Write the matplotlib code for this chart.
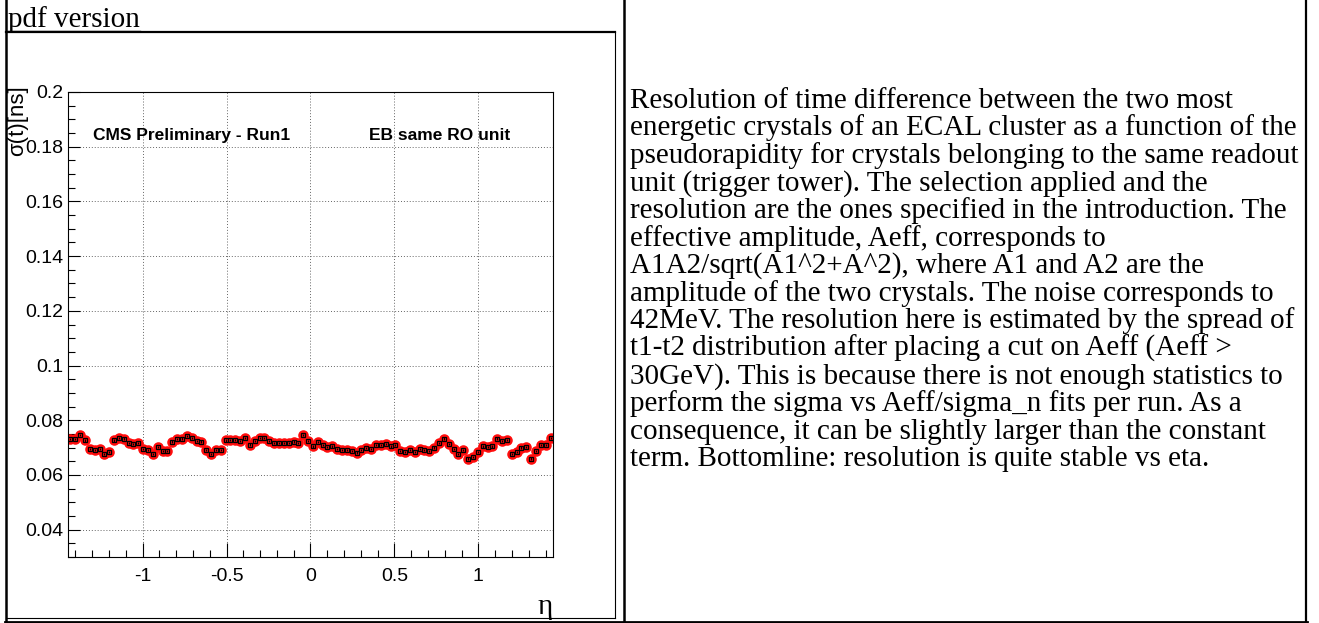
import numpy as np
import matplotlib.pyplot as plt
from matplotlib.lines import Line2D
from matplotlib.ticker import MultipleLocator, FuncFormatter

W, H = 1319, 623

# time resolution per eta bin, EB crystals in the same readout unit
eta_edges = np.linspace(-1.4442, 1.4442, 101)
eta = 0.5 * (eta_edges[:-1] + eta_edges[1:])
sigma_t = [
    0.0732, 0.0732, 0.0745, 0.0726, 0.0694, 0.0691, 0.0694, 0.0677, 0.0684, 0.0726,
    0.0734, 0.0733, 0.0716, 0.0713, 0.0718, 0.0694, 0.0691, 0.0676, 0.0701, 0.0688,
    0.0689, 0.0722, 0.0730, 0.0733, 0.0743, 0.0735, 0.0723, 0.0722, 0.0691, 0.0677,
    0.0691, 0.0690, 0.0726, 0.0728, 0.0727, 0.0724, 0.0734, 0.0711, 0.0723, 0.0734,
    0.0734, 0.0724, 0.0718, 0.0718, 0.0718, 0.0718, 0.0722, 0.0716, 0.0746, 0.0724,
    0.0704, 0.0721, 0.0708, 0.0702, 0.0704, 0.0694, 0.0690, 0.0690, 0.0688, 0.0682,
    0.0690, 0.0699, 0.0696, 0.0708, 0.0708, 0.0712, 0.0704, 0.0708, 0.0688, 0.0684,
    0.0690, 0.0684, 0.0696, 0.0690, 0.0688, 0.0700, 0.0718, 0.0733, 0.0712, 0.0694,
    0.0676, 0.0690, 0.0660, 0.0666, 0.0684, 0.0704, 0.0702, 0.0704, 0.0733, 0.0724,
    0.0727, 0.0676, 0.0684, 0.0700, 0.0702, 0.0660, 0.0688, 0.0708, 0.0708, 0.0734,
]
sigma_err = 0.0004

x_ticks = [-1, -0.5, 0, 0.5, 1]
y_ticks = [0.04, 0.06, 0.08, 0.1, 0.12, 0.14, 0.16, 0.18, 0.2]

caption = [
    "Resolution of time difference between the two most",
    "energetic crystals of an ECAL cluster as a function of the",
    "pseudorapidity for crystals belonging to the same readout",
    "unit (trigger tower). The selection applied and the",
    "resolution are the ones specified in the introduction. The",
    "effective amplitude, Aeff, corresponds to",
    "A1A2/sqrt(A1^2+A^2), where A1 and A2 are the",
    "amplitude of the two crystals. The noise corresponds to",
    "42MeV. The resolution here is estimated by the spread of",
    "t1-t2 distribution after placing a cut on Aeff (Aeff >",
    "30GeV). This is because there is not enough statistics to",
    "perform the sigma vs Aeff/sigma_n fits per run. As a",
    "consequence, it can be slightly larger than the constant",
    "term. Bottomline: resolution is quite stable vs eta.",
]


def fx(x):
    return x / W


def fy(y):
    return 1 - y / H


def hline(fig, x0, x1, y, lw):
    fig.add_artist(Line2D([fx(x0), fx(x1)], [fy(y), fy(y)],
                          transform=fig.transFigure, color='black', lw=lw))


def vline(fig, x, y0, y1, lw):
    fig.add_artist(Line2D([fx(x), fx(x)], [fy(y0), fy(y1)],
                          transform=fig.transFigure, color='black', lw=lw))


fig = plt.figure(figsize=(W / 100, H / 100), dpi=100)

# table borders
vline(fig, 6, 0, 622, 1.8)
vline(fig, 624, 0, 622, 1.8)
vline(fig, 1306, 0, 622, 1.6)
hline(fig, 5, 1307, 621.5, 2.0)

# frame of the embedded plot
hline(fig, 6, 615, 32, 1.6)
vline(fig, 615, 32, 618, 0.8)
hline(fig, 6, 615, 618, 0.8)

# link above the plot
fig.text(fx(8), fy(27), "pdf version", family='Liberation Serif',
         fontsize=21, va='baseline', ha='left')
hline(fig, 8, 140, 30.5, 1.0)

ax = fig.add_axes([fx(68), fy(557), (553 - 68) / W, (557 - 92) / H])
ax.errorbar(eta, sigma_t, yerr=sigma_err, fmt='none', ecolor='black',
            elinewidth=0.8, zorder=3)
ax.plot(eta, sigma_t, 'o', color='#ff0d0d', ms=7.6, mew=0, zorder=2)
ax.plot(eta, sigma_t, 's', mfc='none', mec='black', ms=3.5, mew=0.9,
        zorder=4)

ax.set_xlim(-1.4442, 1.4442)
ax.set_ylim(0.03, 0.2)
ax.set_xticks(x_ticks)
ax.set_yticks(y_ticks)
ax.xaxis.set_minor_locator(MultipleLocator(0.1))
ax.yaxis.set_minor_locator(MultipleLocator(0.005))
ax.xaxis.set_major_formatter(FuncFormatter(lambda v, p: '%g' % v))
ax.yaxis.set_major_formatter(FuncFormatter(lambda v, p: '%g' % v))
ax.tick_params(which='both', direction='in', top=False, right=False,
               color='black', width=0.8)
ax.tick_params(axis='x', which='major', length=10, pad=8)
ax.tick_params(axis='x', which='minor', length=5)
ax.tick_params(axis='y', which='major', length=8.5, pad=3.5)
ax.tick_params(axis='y', which='minor', length=5)
for lab in ax.get_xticklabels() + ax.get_yticklabels():
    lab.set_family('Liberation Sans')
    lab.set_fontsize(14)
ax.grid(which='major', linestyle=(0, (1, 2)), color='#666666', lw=0.7)
for sp in ax.spines.values():
    sp.set_linewidth(0.8)

fig.text(fx(18), fy(85), "σ(t)[ns]", rotation=90, family='Liberation Sans',
         fontsize=16, ha='center', va='top')
fig.text(fx(553), fy(607), "η", family='Liberation Serif', fontsize=21,
         ha='right', va='center')
fig.text(fx(93), fy(135), "CMS Preliminary - Run1", family='Liberation Sans',
         fontweight='bold', fontsize=12.5, ha='left', va='center')
fig.text(fx(510), fy(135), "EB same RO unit", family='Liberation Sans',
         fontweight='bold', fontsize=12.5, ha='right', va='center')

for i, line in enumerate(caption):
    fig.text(fx(630), fy(107.5 + 27.6 * i), line, family='Liberation Serif',
             fontsize=21, va='baseline', ha='left')

fig.savefig('out.png', dpi=100)
